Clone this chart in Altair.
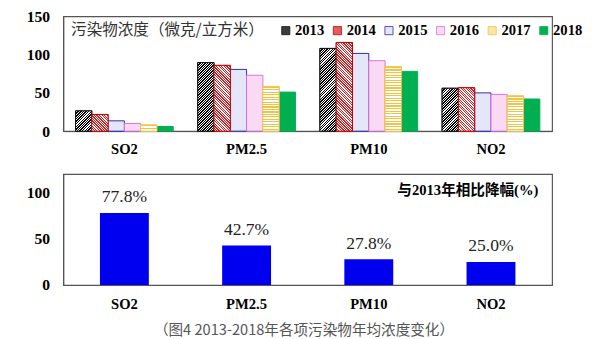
import altair as alt
import pandas as pd

pollutants = ["SO2", "PM2.5", "PM10", "NO2"]
years = ["2013", "2014", "2015", "2016", "2017", "2018"]
so2 = [26.5, 21.8, 13.5, 10.0, 8.0, 6.0]
pm25 = [89.5, 85.9, 80.6, 73.0, 58.0, 51.0]
pm10 = [108.0, 115.8, 101.5, 92.0, 84.0, 78.0]
no2 = [56.0, 56.7, 50.0, 48.0, 46.0, 42.0]
decline = [77.8, 42.7, 27.8, 25.0]
unit_title = "污染物浓度（微克/立方米）"
decline_title = "与2013年相比降幅(%)"
caption = "（图4 2013-2018年各项污染物年均浓度变化）"

series = {"SO2": so2, "PM2.5": pm25, "PM10": pm10, "NO2": no2}
rows = [{"pollutant": p, "year": y, "value": v}
        for p in pollutants for y, v in zip(years, series[p])]
df = pd.DataFrame(rows)
df2 = pd.DataFrame({"pollutant": pollutants, "decline": decline})

W, H1, H2 = 502, 118, 114
YMAX1, YMAX2 = 150, 120
BAR_W = W / 4 * 0.8 / 6

fill_colors = ["#3c3c3c", "#e25e5e", "#e6e6fb", "#f9d9f3", "#fbe6a6", "#00b050"]
stroke_colors = ["#111111", "#c00000", "#2a2aa8", "#e070d8", "#f2c24a", "#00b050"]

SERIF = "Liberation Serif"
CJK = "Noto Sans CJK SC"


def stops(n, color, bg, frac):
    out = []
    for i in range(n):
        a, b, c = i / n, (i + frac) / n, (i + 1) / n
        out += [{"offset": round(a, 4), "color": color},
                {"offset": round(b, 4), "color": color},
                {"offset": round(b, 4), "color": bg},
                {"offset": round(c, 4), "color": bg}]
    return out


def pattern(kind, w, h, color, spacing, frac):
    if kind == "horiz":
        n = max(1, round(h / spacing))
        return {"gradient": "linear", "x1": 0, "y1": 0, "x2": 0, "y2": 1,
                "stops": stops(n, color, "#ffffff", frac)}
    k = (w + h) / (w * w + h * h)
    n = max(1, round((w + h) / spacing))
    if kind == "up":
        x1, y1, x2, y2 = 0, 0, k * w, k * h
    else:
        x1, y1, x2, y2 = 0, 1, k * w, 1 - k * h
    return {"gradient": "linear", "x1": x1, "y1": y1, "x2": x2, "y2": y2,
            "stops": stops(n, color, "#ffffff", frac)}


pattern_years = {"2013": ("up", "#000000", 2.6, 0.55),
                 "2014": ("down", "#d42020", 2.6, 0.5),
                 "2017": ("horiz", "#f3c443", 2.6, 0.45)}

x_top = alt.X("pollutant:N", sort=pollutants,
              scale=alt.Scale(domain=pollutants, paddingInner=0.2, paddingOuter=0.1),
              axis=alt.Axis(title=None, labelAngle=0, ticks=False, labelPadding=11,
                            labelFont=SERIF, labelFontWeight="bold", labelFontSize=15,
                            labelColor="black", domainColor="#555"))
y_top = alt.Y("value:Q", scale=alt.Scale(domain=[0, YMAX1], nice=False),
              axis=alt.Axis(title=None, values=[0, 50, 100, 150], grid=False, ticks=False,
                            labelPadding=14, labelFont=SERIF, labelFontWeight="bold",
                            labelFontSize=16, labelColor="black", domainColor="#555"))
xoff = alt.XOffset("year:N", scale=alt.Scale(domain=years, paddingInner=0, paddingOuter=0))

base_top = alt.Chart(df).encode(x=x_top, y=y_top, xOffset=xoff)

bars = base_top.mark_bar(strokeWidth=1).encode(
    color=alt.Color("year:N", scale=alt.Scale(domain=years, range=fill_colors),
                    legend=alt.Legend(orient="none", legendX=221, legendY=7,
                                      direction="horizontal", title=None,
                                      symbolType="square", symbolSize=70,
                                      symbolStrokeWidth=0.8,
                                      labelFont=SERIF, labelFontWeight="bold",
                                      labelFontSize=15, labelColor="black",
                                      columnPadding=6, labelOffset=2, padding=0)),
    stroke=alt.Stroke("year:N", scale=alt.Scale(domain=years, range=stroke_colors),
                      legend=None),
)

layers = [bars]
for yi, yr in enumerate(years):
    if yr not in pattern_years:
        continue
    kind, col, spacing, frac = pattern_years[yr]
    for p in pollutants:
        v = series[p][yi]
        h = v * H1 / YMAX1
        grad = pattern(kind, BAR_W, h, col, spacing, frac)
        layers.append(
            base_top.transform_filter(
                (alt.datum.pollutant == p) & (alt.datum.year == yr)
            ).mark_bar(fill=grad, stroke=stroke_colors[yi], strokeWidth=1)
        )

unit_text = alt.Chart(pd.DataFrame({"t": [unit_title]})).mark_text(
    align="left", baseline="middle", font=CJK, fontSize=16, color="#333333"
).encode(x=alt.value(8), y=alt.value(14), text="t:N")
layers.append(unit_text)

top = alt.layer(*layers).properties(width=W, height=H1)

x_bot = alt.X("pollutant:N", sort=pollutants,
              scale=alt.Scale(domain=pollutants, paddingInner=0.6, paddingOuter=0.3),
              axis=alt.Axis(title=None, labelAngle=0, ticks=False, labelPadding=12,
                            labelFont=SERIF, labelFontWeight="bold", labelFontSize=15,
                            labelColor="black", domainColor="#555"))
y_bot = alt.Y("decline:Q", scale=alt.Scale(domain=[0, YMAX2], nice=False),
              axis=alt.Axis(title=None, values=[0, 50, 100], grid=False, ticks=False,
                            labelPadding=14, labelFont=SERIF, labelFontWeight="bold",
                            labelFontSize=16, labelColor="black", domainColor="#555"))

base_bot = alt.Chart(df2).encode(x=x_bot, y=y_bot)
bbars = base_bot.mark_bar(color="#0000f0")
blabels = base_bot.transform_calculate(
    label="format(datum.decline, '.1f') + '%'"
).mark_text(baseline="bottom", dy=-7, font=SERIF, fontSize=18, color="#222222").encode(
    text="label:N")
dtext = alt.Chart(pd.DataFrame({"t": [decline_title]})).mark_text(
    align="right", baseline="alphabetic", font=f"{SERIF}, {CJK}", fontSize=15,
    fontWeight="bold", color="black"
).encode(x=alt.value(488), y=alt.value(22), text="t:N")

bottom = alt.layer(bbars, blabels, dtext).properties(width=W, height=H2)

chart = alt.vconcat(top, bottom, spacing=16).properties(
    padding={"left": 26, "top": 3, "right": 10, "bottom": 5},
    title=alt.TitleParams(caption, orient="bottom", anchor="middle", font=CJK,
                          fontSize=15, fontWeight="normal", color="#555555", offset=12),
).configure_view(stroke="#555555", strokeWidth=1.2).configure_concat(spacing=16)

chart.save("out.html", embed_options={"renderer": "svg", "actions": False})
